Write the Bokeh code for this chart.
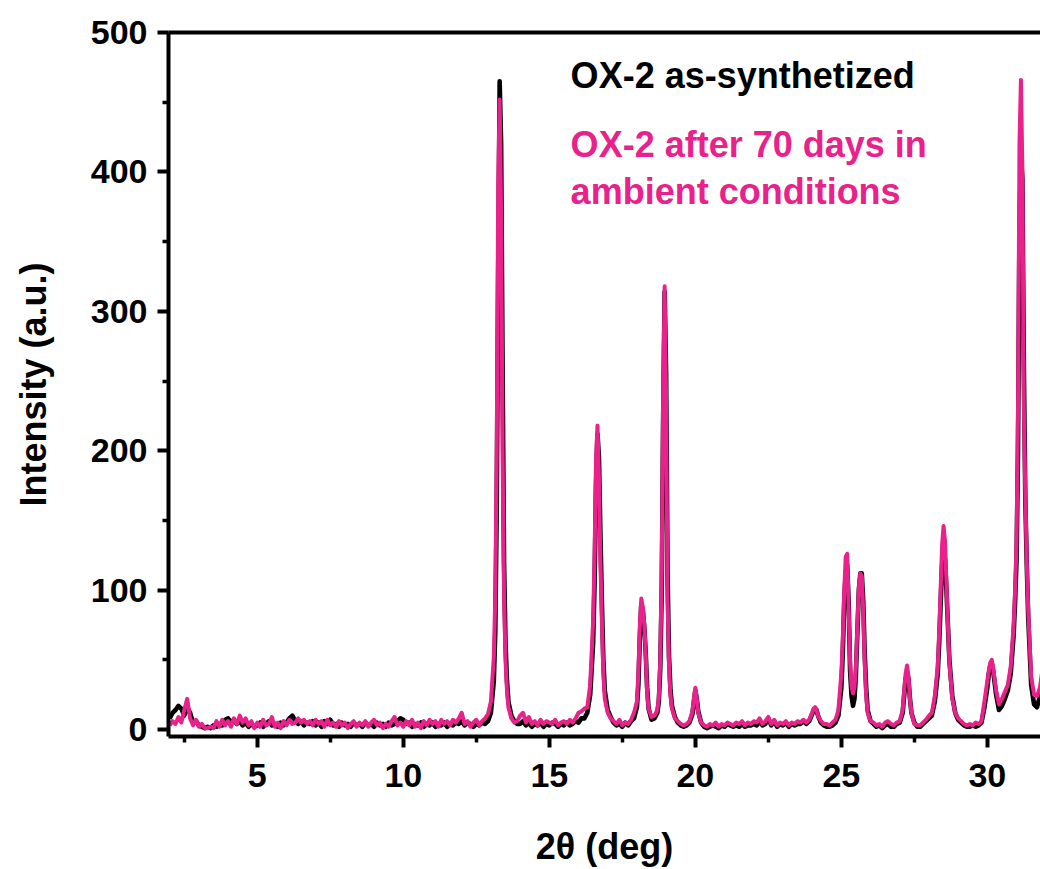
from bokeh.plotting import figure
from bokeh.models import Range1d, LinearAxis, Label, FixedTicker
from bokeh.embed import file_html
from bokeh.resources import INLINE

# ---------------- data ----------------
# 2theta positions (deg) and intensities (a.u.) by region
tt_low = [2.0, 2.1, 2.2, 2.3, 2.4, 2.5, 2.6, 2.7, 2.8, 2.9,
          3.0, 3.1, 3.2, 3.3, 3.4, 3.5, 3.6, 3.7, 3.8, 3.9,
          4.0, 4.1, 4.2, 4.3, 4.4, 4.5, 4.6, 4.7, 4.8, 4.9,
          5.0, 5.1, 5.2, 5.3, 5.4, 5.5, 5.6, 5.7, 5.8, 5.9,
          6.0, 6.1, 6.2, 6.3, 6.4, 6.5, 6.6, 6.7, 6.8, 6.9,
          7.0, 7.1, 7.2, 7.3, 7.4, 7.5, 7.6, 7.7, 7.8, 7.9,
          8.0, 8.1, 8.2, 8.3, 8.4, 8.5, 8.6, 8.7, 8.8, 8.9,
          9.0, 9.1, 9.2, 9.3, 9.4, 9.5, 9.6, 9.7, 9.8, 9.9,
          10.0, 10.1, 10.2, 10.3, 10.4, 10.5, 10.6, 10.7, 10.8, 10.9,
          11.0, 11.1, 11.2, 11.3, 11.4, 11.5, 11.6, 11.7, 11.8, 11.9,
          12.0, 12.1, 12.2, 12.3, 12.4, 12.5, 12.6, 12.7, 12.8]
synth_low = [8, 12, 14, 17, 15, 10, 16, 12, 5, 6,
             3, 2, 1, 2, 1, 3, 2, 4, 3, 7,
             8, 5, 7, 4, 6, 3, 5, 2, 4, 2,
             3, 5, 2, 4, 6, 3, 4, 2, 5, 3,
             5, 8, 10, 6, 4, 6, 3, 5, 4, 6,
             3, 5, 2, 6, 4, 7, 3, 4, 2, 5,
             3, 4, 2, 5, 3, 4, 2, 5, 3, 4,
             2, 5, 3, 4, 2, 5, 3, 4, 6, 8,
             7, 4, 5, 2, 4, 3, 5, 2, 4, 3,
             5, 2, 4, 3, 5, 2, 4, 3, 5, 4,
             6, 3, 5, 4, 2, 4, 3, 5, 4]
aged_low = [3, 6, 4, 9, 5, 14, 22, 8, 3, 7,
            2, 4, 1, 1, 2, 1, 6, 2, 7, 3,
            6, 2, 8, 4, 10, 5, 8, 3, 6, 1,
            5, 2, 7, 3, 4, 9, 2, 5, 1, 6,
            3, 7, 4, 5, 8, 5, 7, 4, 6, 3,
            7, 4, 6, 2, 7, 3, 5, 2, 6, 3,
            5, 1, 4, 6, 2, 5, 3, 6, 2, 5,
            7, 3, 5, 1, 4, 2, 6, 9, 3, 5,
            2, 6, 3, 7, 2, 5, 1, 6, 3, 7,
            4, 6, 2, 7, 4, 6, 3, 7, 5, 8,
            12, 4, 6, 2, 5, 7, 3, 6, 8]

tt_p13 = [12.9, 13.0, 13.1, 13.15, 13.2, 13.25, 13.3, 13.35, 13.4, 13.45, 13.5, 13.55, 13.6, 13.7, 13.8, 13.9]
synth_p13 = [6, 12, 35, 70, 160, 330, 465, 420, 260, 120, 62, 35, 20, 10, 6, 4]
aged_p13 = [11, 20, 52, 95, 200, 390, 452, 370, 200, 95, 50, 28, 16, 8, 5, 6]

tt_b14 = [14.0, 14.1, 14.2, 14.3, 14.4, 14.5, 14.6, 14.7, 14.8, 14.9,
          15.0, 15.1, 15.2, 15.3, 15.4, 15.5, 15.6, 15.7, 15.8, 15.9, 16.0, 16.1]
synth_b14 = [4, 6, 3, 5, 2, 4, 3, 5, 2, 4, 3, 5, 4, 2, 4, 3, 5, 3, 4, 6, 5, 8]
aged_b14 = [10, 12, 5, 9, 4, 6, 3, 7, 4, 6, 5, 4, 7, 3, 5, 6, 4, 7, 5, 8, 12, 13]

tt_p16 = [16.2, 16.3, 16.4, 16.5, 16.55, 16.6, 16.65, 16.7, 16.75, 16.8, 16.85, 16.9, 17.0, 17.1]
synth_p16 = [8, 12, 25, 62, 105, 175, 212, 195, 140, 92, 50, 28, 14, 9]
aged_p16 = [15, 16, 32, 78, 125, 195, 218, 180, 120, 78, 40, 22, 12, 8]

tt_b17 = [17.2, 17.3, 17.4, 17.5, 17.6, 17.7, 17.8, 17.9]
synth_b17 = [5, 3, 4, 2, 5, 3, 6, 8]
aged_b17 = [6, 4, 7, 3, 5, 4, 7, 12]

tt_p18 = [18.0, 18.05, 18.1, 18.15, 18.2, 18.25, 18.3, 18.35, 18.4, 18.5,
          18.6, 18.7, 18.75, 18.8, 18.85, 18.9, 18.95, 19.0, 19.05, 19.1,
          19.15, 19.2, 19.3, 19.4, 19.5]
synth_p18 = [16, 32, 66, 90, 86, 74, 56, 30, 15, 7,
             8, 12, 20, 44, 100, 225, 314, 255, 110, 52,
             28, 17, 9, 5, 3]
aged_p18 = [20, 40, 74, 94, 88, 76, 55, 26, 15, 9,
            10, 14, 23, 50, 115, 245, 318, 235, 92, 45,
            24, 15, 8, 6, 4]

tt_p20 = [19.6, 19.7, 19.8, 19.9, 19.95, 20.0, 20.05, 20.1, 20.2, 20.3]
synth_p20 = [2, 3, 5, 11, 20, 28, 22, 13, 5, 2]
aged_p20 = [3, 4, 6, 13, 22, 30, 22, 12, 5, 3]

tt_b21 = [20.4, 20.5, 20.6, 20.7, 20.8, 20.9, 21.0, 21.1, 21.2, 21.3,
          21.4, 21.5, 21.6, 21.7, 21.8, 21.9, 22.0, 22.1, 22.2, 22.3,
          22.4, 22.5, 22.6, 22.7, 22.8, 22.9, 23.0, 23.1, 23.2, 23.3,
          23.4, 23.5, 23.6, 23.7]
synth_b21 = [1, 2, 3, 2, 1, 3, 2, 4, 3, 2, 3, 2, 4, 2, 3, 3, 4, 3, 6, 3,
             4, 8, 3, 6, 2, 4, 3, 5, 2, 4, 3, 4, 4, 6]
aged_b21 = [2, 4, 3, 5, 2, 4, 3, 5, 4, 3, 5, 4, 6, 3, 5, 4, 6, 5, 8, 4,
            6, 9, 4, 7, 3, 5, 4, 6, 3, 5, 4, 6, 5, 7]

tt_p24 = [23.8, 23.9, 24.0, 24.05, 24.1, 24.15, 24.2, 24.3, 24.4, 24.5, 24.6, 24.7, 24.8]
synth_p24 = [4, 6, 11, 14, 15, 14, 10, 5, 3, 2, 2, 3, 5]
aged_p24 = [5, 7, 12, 15, 16, 14, 10, 6, 4, 4, 3, 5, 7]

tt_p25 = [24.9, 25.0, 25.05, 25.1, 25.15, 25.2, 25.25, 25.3, 25.35, 25.4,
          25.45, 25.5, 25.55, 25.6, 25.65, 25.7, 25.75, 25.8, 25.85, 25.9, 26.0, 26.1]
synth_p25 = [10, 30, 55, 92, 112, 118, 92, 42, 24, 17,
             22, 40, 70, 100, 112, 112, 92, 55, 30, 14, 6, 4]
aged_p25 = [14, 40, 65, 100, 124, 126, 88, 48, 31, 26,
            30, 45, 75, 102, 112, 110, 85, 48, 25, 12, 6, 5]

tt_b26 = [26.2, 26.3, 26.4, 26.5, 26.6, 26.7, 26.8, 26.9]
synth_b26 = [2, 3, 1, 3, 4, 2, 2, 4]
aged_b26 = [3, 4, 2, 5, 6, 4, 3, 5]

tt_p27 = [27.0, 27.1, 27.15, 27.2, 27.25, 27.3, 27.35, 27.4, 27.5, 27.6, 27.7, 27.8, 27.9]
synth_p27 = [5, 12, 24, 36, 41, 36, 22, 12, 5, 2, 2, 4, 6]
aged_p27 = [6, 14, 28, 40, 46, 38, 22, 12, 4, 3, 3, 5, 7]

tt_p28 = [28.0, 28.1, 28.2, 28.3, 28.35, 28.4, 28.45, 28.5, 28.55, 28.6, 28.65, 28.7, 28.8, 28.9, 29.0]
synth_p28 = [8, 10, 20, 40, 62, 90, 118, 126, 122, 100, 75, 50, 24, 12, 7]
aged_p28 = [10, 12, 24, 45, 70, 100, 132, 146, 135, 105, 75, 48, 22, 12, 8]

tt_b29 = [29.1, 29.2, 29.3, 29.4, 29.5, 29.6, 29.7, 29.8]
synth_b29 = [5, 3, 2, 2, 3, 2, 3, 5]
aged_b29 = [6, 4, 3, 4, 3, 5, 4, 6]

tt_p31 = [29.9, 30.0, 30.05, 30.1, 30.15, 30.2, 30.3, 30.4, 30.5, 30.6,
          30.7, 30.8, 30.9, 30.95, 31.0, 31.05, 31.1, 31.15, 31.2, 31.25,
          31.3, 31.35, 31.4, 31.5, 31.6, 31.7, 31.8, 31.9]
synth_p31 = [16, 30, 40, 46, 48, 42, 25, 14, 17, 22,
             28, 40, 68, 92, 122, 200, 360, 412, 395, 260,
             165, 118, 80, 32, 18, 16, 24, 40]
aged_p31 = [20, 35, 42, 48, 50, 44, 28, 18, 22, 27,
            32, 45, 75, 100, 135, 230, 420, 466, 400, 230,
            170, 120, 85, 38, 25, 24, 30, 45]

x_ticks = [5, 10, 15, 20, 25, 30]
x_minor = [2.5, 7.5, 12.5, 17.5, 22.5, 27.5, 32.5]
y_ticks = [0, 100, 200, 300, 400, 500]
y_minor = [50, 150, 250, 350, 450]

label_synth = "OX-2 as-synthetized"
label_aged_1 = "OX-2 after 70 days in"
label_aged_2 = "ambient conditions"

two_theta = (tt_low + tt_p13 + tt_b14 + tt_p16 + tt_b17 + tt_p18 + tt_p20 + tt_b21
             + tt_p24 + tt_p25 + tt_b26 + tt_p27 + tt_p28 + tt_b29 + tt_p31)
as_synth = (synth_low + synth_p13 + synth_b14 + synth_p16 + synth_b17 + synth_p18 + synth_p20
            + synth_b21 + synth_p24 + synth_p25 + synth_b26 + synth_p27 + synth_p28 + synth_b29 + synth_p31)
aged = (aged_low + aged_p13 + aged_b14 + aged_p16 + aged_b17 + aged_p18 + aged_p20
        + aged_b21 + aged_p24 + aged_p25 + aged_b26 + aged_p27 + aged_p28 + aged_b29 + aged_p31)

PINK = "#E8228A"
FONT = "Liberation Sans"

p = figure(width=1040, height=869, output_backend="svg", toolbar_location=None,
           x_range=Range1d(1.96, 31.82), y_range=Range1d(-5, 500),
           min_border_left=168, min_border_right=0, min_border_top=32, min_border_bottom=130,
           x_axis_label="2θ (deg)", y_axis_label="Intensity (a.u.)")
p.outline_line_color = None
p.grid.visible = False
p.background_fill_color = "white"
p.border_fill_color = "white"

p.line(two_theta, as_synth, line_color="black", line_width=4.6, line_join="round")
p.line(two_theta, aged, line_color=PINK, line_width=4.0, line_join="round")

p.xaxis.ticker = FixedTicker(ticks=x_ticks, minor_ticks=x_minor)
p.yaxis.ticker = FixedTicker(ticks=y_ticks, minor_ticks=y_minor)

for ax in (p.xaxis[0], p.yaxis[0]):
    ax.axis_line_width = 4
    ax.axis_line_color = "black"
    ax.major_tick_line_width = 4
    ax.minor_tick_line_width = 3.5
    ax.major_tick_in = 0
    ax.minor_tick_in = 0
    ax.major_tick_out = 11
    ax.minor_tick_out = 6
    ax.major_label_text_font = FONT
    ax.major_label_text_font_style = "bold"
    ax.major_label_text_font_size = "34px"
    ax.major_label_text_color = "black"
    ax.axis_label_text_font = FONT
    ax.axis_label_text_font_style = "bold"
    ax.axis_label_text_font_size = "36px"
    ax.axis_label_text_color = "black"
    ax.major_label_standoff = 10

p.xaxis[0].major_label_standoff = 16
p.xaxis[0].axis_label_standoff = 36
p.yaxis[0].axis_label_standoff = 34

top = LinearAxis(ticker=FixedTicker(ticks=[]), major_label_text_font_size="0px",
                 axis_line_width=4, major_tick_line_color=None, minor_tick_line_color=None)
p.add_layout(top, "above")

p.add_layout(Label(x=15.73, y=469.5, text=label_synth, text_color="black",
                   text_font=FONT, text_font_style="bold", text_font_size="36px",
                   text_baseline="alphabetic"))
p.add_layout(Label(x=15.73, y=419.5, text=label_aged_1, text_color=PINK,
                   text_font=FONT, text_font_style="bold", text_font_size="36px",
                   text_baseline="alphabetic"))
p.add_layout(Label(x=15.73, y=386, text=label_aged_2, text_color=PINK,
                   text_font=FONT, text_font_style="bold", text_font_size="36px",
                   text_baseline="alphabetic"))

open("out.html", "w").write(file_html(p, INLINE))
